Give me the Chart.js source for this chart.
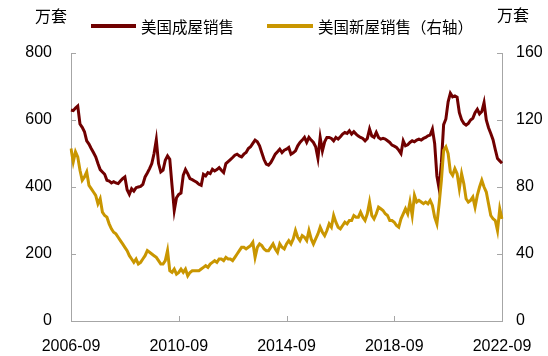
<!DOCTYPE html>
<html><head><meta charset="utf-8">
<script src="https://cdn.jsdelivr.net/npm/chart.js@4.4.0/dist/chart.umd.min.js"></script>
<style>
html,body{margin:0;padding:0;background:#fff;}
#wrap{position:relative;width:548px;height:356px;overflow:hidden;font-family:"Liberation Sans","Noto Sans CJK SC",Arial,sans-serif;color:#000;}
#c{position:absolute;left:0;top:0;}
.t{position:absolute;white-space:nowrap;line-height:1;}
.sw{position:absolute;height:4px;}
</style></head><body>
<div id="wrap">
<canvas id="c" width="548" height="356"></canvas>
<div class="t" style="left:35px;top:9px;font-size:16px">万套</div>
<div class="t" style="left:497px;top:8px;font-size:16px">万套</div>
<div class="sw" style="left:91px;top:24px;width:45px;background:#700000"></div>
<div class="t" style="left:141px;top:20px;font-size:15.5px">美国成屋销售</div>
<div class="sw" style="left:267px;top:24px;width:46px;background:#C99600"></div>
<div class="t" style="left:318px;top:20px;font-size:15.5px">美国新屋销售（右轴）</div>
</div>
<script>
// ---- data (10k units, SAAR) ----
const startYear = 2006, startMonth = 9, nMonths = 193;
const xTickLabels = ['2006-09','2010-09','2014-09','2018-09','2022-09'];
const leftTicks = [0,200,400,600,800];
const rightTicks = [0,40,80,120,160];
const seriesNames = ['美国成屋销售','美国新屋销售（右轴）'];

const existingSales = [
630,628,636,642,588,578,565,538,528,515,
503,490,470,452,445,438,420,418,412,416,
412,410,418,425,430,392,378,395,388,398,
400,402,408,430,442,455,470,500,541,470,
445,450,480,493,483,405,330,368,378,382,
435,452,440,425,422,418,414,408,405,438,
433,443,440,453,448,452,458,450,443,470,
476,482,488,495,498,493,490,498,503,515,
520,530,540,535,523,502,482,468,465,473,
485,498,505,513,503,510,513,518,498,502,
508,523,533,540,548,533,548,540,533,520,
486,548,508,535,548,548,545,538,548,543,
550,558,563,560,568,558,565,558,552,548,
545,538,545,573,552,548,563,548,543,545,
543,538,533,525,522,518,510,500,538,523,
526,533,538,535,540,543,540,545,548,553,
555,573,530,433,395,472,586,603,654,680,
669,672,668,622,601,590,585,590,600,605,
622,632,618,625,652,600,577,560,541,512,
485,478,471
];
const newSales = [
103,95,101,98,90,84,86,89,81,79,
77,75,70,73,65,63,62,58,55,53,
52,50,48,46,44,42,39,37,35,37,
34,35,37,39,42,41,40,39,38,36,
34,34,36,42,30,29,31,28,29,31,
29,31,27,29,30,30,30,30,31,32,
33,32,34,35,36,35,37,37,36,38,
37,37,36,38,40,42,44,44,43,44,
45,47,38,44,46,45,43,42,42,44,
46,43,41,46,44,43,46,48,46,49,
54,50,48,51,50,48,54,49,46,49,
52,56,53,51,54,58,56,63,59,56,
55,57,59,58,60,60,63,62,62,65,
62,60,64,71,63,61,64,68,67,66,
64,63,60,60,59,57,56,61,64,67,
64,71,63,75,71,72,71,70,71,70,
72,69,62,58,70,84,102,104,100,89,
87,91,88,79,88,82,73,71,72,74,
68,75,80,84,80,77,70,63,61,60,
54,67,61
];

const months = [];
for (let k = 0; k < nMonths; k++) {
  const m0 = startMonth - 1 + k;
  const y = startYear + Math.floor(m0 / 12), m = (m0 % 12) + 1;
  months.push(y + '-' + String(m).padStart(2, '0'));
}

const RED = '#700000', GOLD = '#C99600', AXIS = '#A6A6A6';
const FONT = '"Liberation Sans", Arial, sans-serif';

const inwardTicks = {
  id: 'inwardTicks',
  afterDraw(chart) {
    const ctx = chart.ctx, a = chart.chartArea, L = 5;
    ctx.save();
    ctx.strokeStyle = AXIS; ctx.lineWidth = 1; ctx.beginPath();
    const sy = chart.scales.y, sr = chart.scales.y1, sx = chart.scales.x;
    leftTicks.forEach(v => { const y = Math.round(sy.getPixelForValue(v)) + 0.5; ctx.moveTo(a.left, y); ctx.lineTo(a.left + L, y); });
    rightTicks.forEach(v => { const y = Math.round(sr.getPixelForValue(v)) + 0.5; ctx.moveTo(a.right, y); ctx.lineTo(a.right - L, y); });
    xTickLabels.forEach(l => { const i = months.indexOf(l); const x = Math.round(sx.getPixelForValue(i)) + 0.5; ctx.moveTo(x, a.bottom); ctx.lineTo(x, a.bottom - L); });
    ctx.stroke(); ctx.restore();
  }
};

new Chart(document.getElementById('c'), {
  type: 'line',
  data: {
    labels: months,
    datasets: [
      { label: seriesNames[0], data: existingSales, yAxisID: 'y', borderColor: RED, backgroundColor: RED, borderWidth: 3, pointRadius: 0, tension: 0, order: 1 },
      { label: seriesNames[1], data: newSales, yAxisID: 'y1', borderColor: GOLD, backgroundColor: GOLD, borderWidth: 3, pointRadius: 0, tension: 0, order: 0 }
    ]
  },
  options: {
    responsive: false, animation: false, devicePixelRatio: 1,
    layout: { padding: { top: 53, left: 0, right: 0, bottom: 0 } },
    plugins: { legend: { display: false }, tooltip: { enabled: false } },
    scales: {
      x: {
        type: 'category',
        grid: { display: false, drawTicks: false },
        border: { display: true, color: AXIS, width: 1 },
        ticks: {
          autoSkip: false, maxRotation: 0, minRotation: 0, padding: 16, color: '#000',
          font: { size: 16, family: FONT },
          callback: function (v) { const l = this.getLabelForValue(v); return xTickLabels.includes(l) ? l : null; }
        },
        afterFit(s) { s.height = 35; }
      },
      y: {
        position: 'left', min: 0, max: 800,
        grid: { display: false, drawTicks: false },
        border: { display: true, color: AXIS, width: 1 },
        ticks: { stepSize: 200, padding: 19, color: '#000', font: { size: 16, family: FONT } },
        afterFit(s) { s.width = 71; }
      },
      y1: {
        position: 'right', min: 0, max: 160,
        grid: { display: false, drawTicks: false },
        border: { display: true, color: AXIS, width: 1 },
        ticks: { stepSize: 40, padding: 14, color: '#000', font: { size: 16, family: FONT } },
        afterFit(s) { s.width = 46; }
      }
    }
  },
  plugins: [inwardTicks]
});
</script>
</body></html>
